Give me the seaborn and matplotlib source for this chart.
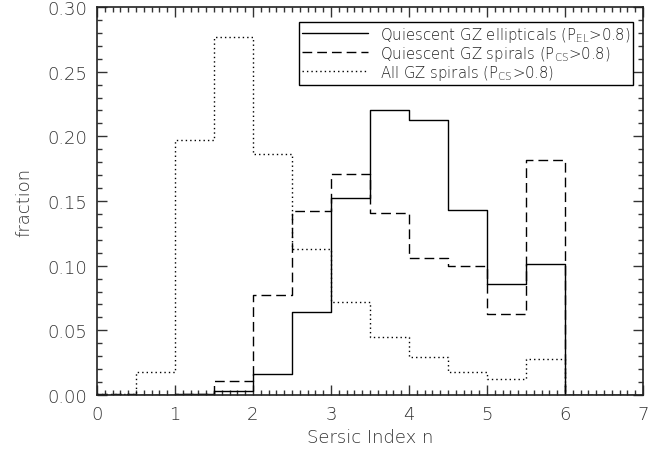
import numpy as np
import pandas as pd
import matplotlib
matplotlib.use("Agg")
import matplotlib.pyplot as plt
from matplotlib.ticker import MultipleLocator
import seaborn as sns

# bin edges (Sersic index n), width 0.5 from 0 to 7
bin_edges = [0.0, 0.5, 1.0, 1.5, 2.0, 2.5, 3.0, 3.5, 4.0, 4.5, 5.0, 5.5, 6.0, 6.5, 7.0]
ellipticals = [0.0, 0.0, 0.001, 0.003, 0.016, 0.064, 0.152, 0.220, 0.213, 0.143, 0.086, 0.101, 0.0, 0.0]
q_spirals = [0.001, 0.0, 0.001, 0.011, 0.077, 0.142, 0.171, 0.141, 0.106, 0.100, 0.063, 0.182, 0.0, 0.0]
all_spirals = [0.001, 0.018, 0.197, 0.277, 0.186, 0.113, 0.072, 0.045, 0.029, 0.018, 0.012, 0.028, 0.0, 0.0]

labels = [r"Quiescent GZ ellipticals (P$_{\rm EL}$>0.8)",
          r"Quiescent GZ spirals (P$_{\rm CS}$>0.8)",
          r"All GZ spirals (P$_{\rm CS}$>0.8)"]

sns.set_style("ticks")
plt.rcParams['font.family'] = ['DejaVu Sans']
plt.rcParams['font.weight'] = 'light'
plt.rcParams['axes.labelweight'] = 'light'
plt.rcParams['mathtext.fontset'] = 'dejavusans'

fig = plt.figure(figsize=(6.67, 4.56), dpi=100)
ax = fig.add_axes([0.1454, 0.1316, 0.964 - 0.1454, 0.9825 - 0.1316])

centers = [(a + b) / 2 for a, b in zip(bin_edges[:-1], bin_edges[1:])]
styles = ['-', (0, (7, 3.6)), (0, (1, 2.2))]
for vals, ls, lab in zip([ellipticals, q_spirals, all_spirals], styles, labels):
    df = pd.DataFrame({"n": centers, "w": vals})
    sns.histplot(data=df, x="n", weights="w", bins=bin_edges, element="step",
                 fill=False, color="black", linewidth=1.0, linestyle=ls,
                 ax=ax, label=lab)

ax.set_xlim(0, 7)
ax.set_ylim(0, 0.30)
ax.xaxis.set_major_locator(MultipleLocator(1))
ax.xaxis.set_minor_locator(MultipleLocator(0.1))
ax.yaxis.set_major_locator(MultipleLocator(0.05))
ax.yaxis.set_minor_locator(MultipleLocator(0.01))
ax.yaxis.set_major_formatter(matplotlib.ticker.FormatStrFormatter('%.2f'))
ax.tick_params(which='both', direction='in', top=True, right=True,
               labelsize=13, colors='#333333', width=1.0)
ax.tick_params(which='major', length=7.5, pad=7)
ax.tick_params(which='minor', length=3.8)
for s in ax.spines.values():
    s.set_linewidth(1.2)
    s.set_color('#222222')

ax.set_xlabel("Sersic Index n", fontsize=13, color='#333333', labelpad=4,
              fontweight='light')
ax.set_ylabel("fraction", fontsize=13, color='#333333', labelpad=10,
              fontweight='light')

leg = ax.legend(loc='upper right', bbox_to_anchor=(0.982, 0.962), fontsize=10.7,
                frameon=True, fancybox=False, edgecolor='black', framealpha=1,
                handlelength=4.4, labelspacing=0.0, borderpad=0.2,
                handletextpad=0.8, borderaxespad=0)
leg.get_frame().set_linewidth(1.0)
for t in leg.get_texts():
    t.set_color('#222222')

fig.savefig("out.png", dpi=100)
